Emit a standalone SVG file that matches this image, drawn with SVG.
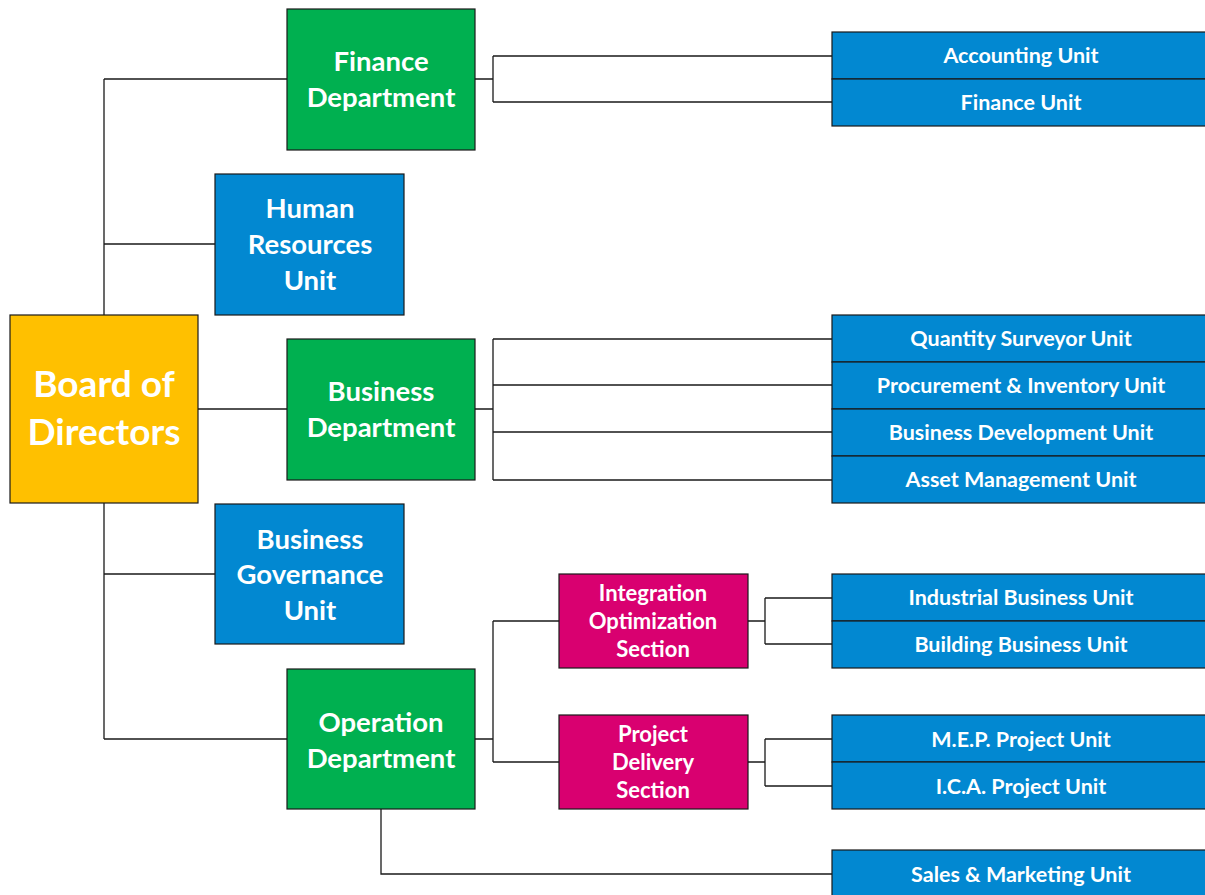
<svg xmlns="http://www.w3.org/2000/svg" width="1205" height="895" viewBox="0 0 1205 895">
<style>
.box{stroke:#1a1a1a;stroke-width:1.2}
.y{fill:#FFC000}.g{fill:#00B050}.b{fill:#0288D1}.m{fill:#D90070}
text{font-family:Lato,"Liberation Sans",sans-serif;font-weight:bold;fill:#fff;text-anchor:middle}
.t1{font-size:37px}.t2{font-size:27.5px}.t3{font-size:21.5px}.t4{font-size:22px}
.c{fill:none;stroke:#1a1a1a;stroke-width:1.3}
</style>
<rect width="1205" height="895" fill="#fff"/>
<g id="connectors">
<path class="c" d="M104 79V739M104 79H287M104 244H215M198 409H287M104 574H215M104 739H287"/>
<path class="c" d="M475 79H493M493 56V102M493 56H832M493 102H832"/>
<path class="c" d="M475 409H493M493 339V480M493 339H832M493 385H832M493 432H832M493 480H832"/>
<path class="c" d="M475 739H493M493 621V762M493 621H559M493 762H559"/>
<path class="c" d="M748 621H765M765 598V644M765 598H832M765 644H832"/>
<path class="c" d="M748 762H765M765 739V786M765 739H832M765 786H832"/>
<path class="c" d="M381 809V874H832"/>
</g>
<g id="board"><rect class="box y" x="10" y="315" width="188" height="188"/><text class="t1" x="104" y="397">Board of</text><text class="t1" x="104" y="445">Directors</text></g>
<g id="finance-dept"><rect class="box g" x="287" y="9" width="188" height="141"/><text class="t2" x="381" y="71">Finance</text><text class="t2" x="381" y="107">Department</text></g>
<g id="hr-unit"><rect class="box b" x="215" y="174" width="189" height="141"/><text class="t2" x="310" y="218">Human</text><text class="t2" x="310" y="254">Resources</text><text class="t2" x="310" y="290">Unit</text></g>
<g id="business-dept"><rect class="box g" x="287" y="339" width="188" height="141"/><text class="t2" x="381" y="401">Business</text><text class="t2" x="381" y="437">Department</text></g>
<g id="governance-unit"><rect class="box b" x="215" y="504" width="189" height="140"/><text class="t2" x="310" y="549">Business</text><text class="t2" x="310" y="584">Governance</text><text class="t2" x="310" y="620">Unit</text></g>
<g id="operation-dept"><rect class="box g" x="287" y="669" width="188" height="140"/><text class="t2" x="381" y="732">Operation</text><text class="t2" x="381" y="768">Department</text></g>
<g id="accounting-unit"><rect class="box b" x="832" y="32" width="374" height="47"/><text class="t3" x="1021" y="63">Accounting Unit</text></g>
<g id="finance-unit"><rect class="box b" x="832" y="79" width="374" height="47"/><text class="t3" x="1021" y="110">Finance Unit</text></g>
<g id="qs-unit"><rect class="box b" x="832" y="315" width="374" height="47"/><text class="t3" x="1021" y="346">Quantity Surveyor Unit</text></g>
<g id="procurement-unit"><rect class="box b" x="832" y="362" width="374" height="47"/><text class="t3" x="1021" y="393">Procurement &amp; Inventory Unit</text></g>
<g id="bizdev-unit"><rect class="box b" x="832" y="409" width="374" height="47"/><text class="t3" x="1021" y="440">Business Development Unit</text></g>
<g id="asset-unit"><rect class="box b" x="832" y="456" width="374" height="47"/><text class="t3" x="1021" y="487">Asset Management Unit</text></g>
<g id="integration-section"><rect class="box m" x="559" y="574" width="189" height="94"/><text class="t4" x="653" y="601">Integration</text><text class="t4" x="653" y="629">Optimization</text><text class="t4" x="653" y="657">Section</text></g>
<g id="delivery-section"><rect class="box m" x="559" y="715" width="189" height="94"/><text class="t4" x="653" y="742">Project</text><text class="t4" x="653" y="770">Delivery</text><text class="t4" x="653" y="798">Section</text></g>
<g id="industrial-unit"><rect class="box b" x="832" y="574" width="374" height="47"/><text class="t3" x="1021" y="605">Industrial Business Unit</text></g>
<g id="building-unit"><rect class="box b" x="832" y="621" width="374" height="47"/><text class="t3" x="1021" y="652">Building Business Unit</text></g>
<g id="mep-unit"><rect class="box b" x="832" y="715" width="374" height="47"/><text class="t3" x="1021" y="747">M.E.P. Project Unit</text></g>
<g id="ica-unit"><rect class="box b" x="832" y="762" width="374" height="47"/><text class="t3" x="1021" y="794">I.C.A. Project Unit</text></g>
<g id="sales-unit"><rect class="box b" x="832" y="850" width="374" height="50"/><text class="t3" x="1021" y="882">Sales &amp; Marketing Unit</text></g>
</svg>
